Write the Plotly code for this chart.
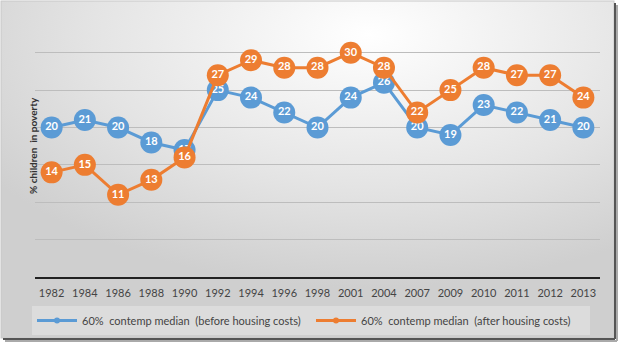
import base64
import plotly.graph_objects as go

years = ["1982", "1984", "1986", "1988", "1990", "1992", "1994", "1996", "1998",
         "2001", "2004", "2007", "2009", "2010", "2011", "2012", "2013"]
before_hc = [20, 21, 20, 18, 17, 25, 24, 22, 20, 24, 26, 20, 19, 23, 22, 21, 20]
after_hc = [14, 15, 11, 13, 16, 27, 29, 28, 28, 30, 28, 22, 25, 28, 27, 27, 24]
name_before = "60%  contemp median  (before housing costs)"
name_after = "60%  contemp median  (after housing costs)"

W, H = 619, 343
L, R, T, B = 35, 19, 15, 66
PW, PH = W - L - R, H - T - B

svg = f'''<svg xmlns="http://www.w3.org/2000/svg" width="{W}" height="{H}" viewBox="0 0 {W} {H}" preserveAspectRatio="none">
<defs><radialGradient id="g" cx="0.6" cy="0.1" r="0.75" fx="0.6" fy="0.1">
<stop offset="0" stop-color="#ffffff"/><stop offset="0.6" stop-color="#e4e4e4"/><stop offset="1" stop-color="#cfcfcf"/>
</radialGradient></defs>
<rect x="0" y="0" width="{W}" height="{H}" fill="#ffffff"/>
<rect x="1" y="1" width="{W-6}" height="{H-6}" fill="url(#g)" stroke="#c8c8c8" stroke-width="1"/>
<line x1="{W-4}" y1="3" x2="{W-4}" y2="{H-4}" stroke="#555" stroke-width="2"/>
<line x1="3" y1="{H-4}" x2="{W-4}" y2="{H-4}" stroke="#555" stroke-width="2"/>
<line x1="{W-2}" y1="5" x2="{W-2}" y2="{H-2}" stroke="#aaa" stroke-width="2"/>
<line x1="5" y1="{H-2}" x2="{W-2}" y2="{H-2}" stroke="#aaa" stroke-width="2"/>
</svg>'''
src = "data:image/svg+xml;base64," + base64.b64encode(svg.encode()).decode()

fig = go.Figure()
for name, vals, col in [(name_before, before_hc, "#5B9BD5"), (name_after, after_hc, "#ED7D31")]:
    fig.add_trace(go.Scatter(
        x=years, y=vals, name=name, mode="lines+markers+text", showlegend=False,
        line=dict(color=col, width=3),
        marker=dict(color=col, size=22, line=dict(width=0)),
        text=[str(v) for v in vals], textposition="middle center",
        textfont=dict(color="white", size=11, family="Lato", weight="bold"),
    ))
    # legend-only entry with a small marker, as in the reference legend
    fig.add_trace(go.Scatter(
        x=[None], y=[None], name=name, mode="lines+markers",
        line=dict(color=col, width=3), marker=dict(color=col, size=6),
    ))

fig.update_layout(
    width=W, height=H,
    margin=dict(l=L, r=R, t=T, b=B, autoexpand=False),
    paper_bgcolor="rgba(0,0,0,0)",
    plot_bgcolor="rgba(0,0,0,0)",
    images=[dict(source=src, xref="paper", yref="paper",
                 x=-L / PW, y=(PH + T) / PH,
                 sizex=W / PW, sizey=H / PH, sizing="stretch",
                 xanchor="left", yanchor="top", layer="below")],
    xaxis=dict(type="category", showgrid=False, zeroline=False,
               showline=True, linecolor="#222", linewidth=2,
               ticks="", ticklabelstandoff=5,
               tickfont=dict(family="Lato", size=11, color="#444"),
               range=[-0.5, len(years) - 0.5]),
    yaxis=dict(range=[0, 35.05], tickvals=[5, 10, 15, 20, 25, 30, 35],
               showticklabels=False, ticks="",
               showgrid=True, gridcolor="#bdbdbd", gridwidth=1, zeroline=False,
               showline=False),
    showlegend=True,
    legend=dict(orientation="h", xref="container", yref="container",
                x=32 / W, y=1 - 306 / H, xanchor="left", yanchor="top",
                bgcolor="rgba(222,222,222,0.8)", borderwidth=0,
                font=dict(family="Lato", size=11, color="#444"),
                entrywidth=224, itemwidth=40, itemsizing="trace"),
    annotations=[dict(text="<b>% children  in poverty</b>", textangle=-90,
                      xref="paper", yref="paper", x=(25 - L) / PW, y=0.5,
                      showarrow=False, font=dict(family="Lato", size=10, color="#333"))],
)

fig.write_html("out.html")
